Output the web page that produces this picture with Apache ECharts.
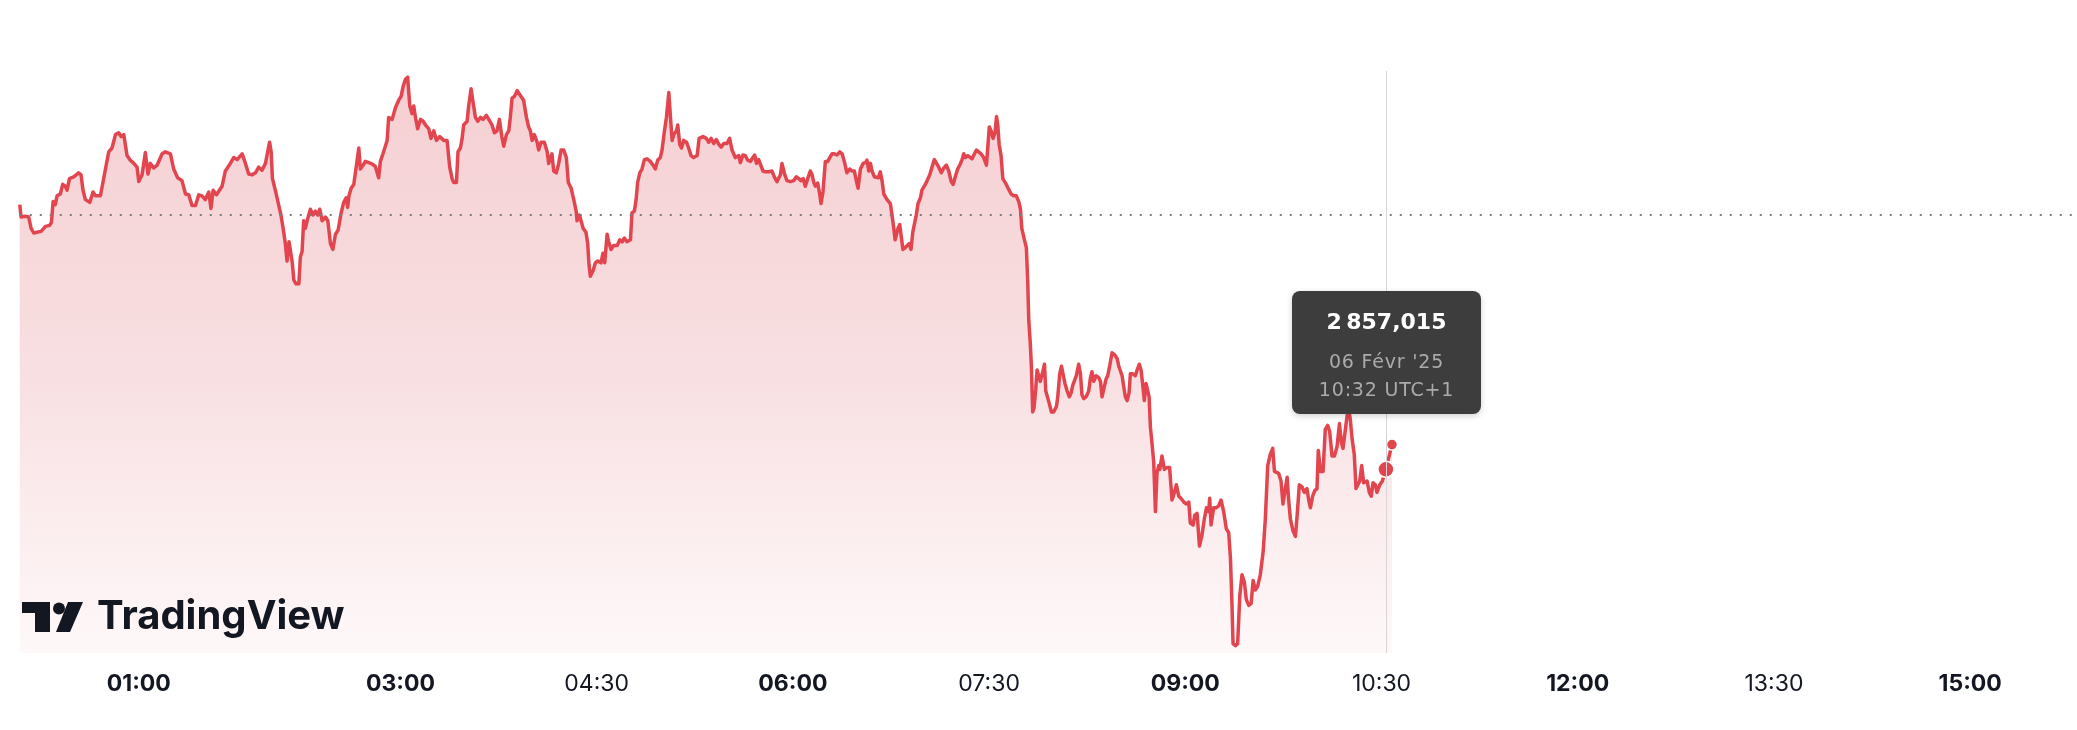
<!DOCTYPE html>
<html><head><meta charset="utf-8">
<script src="https://cdn.jsdelivr.net/npm/echarts@6/dist/echarts.min.js"></script>
<style>html,body{margin:0;padding:0;background:#fff}#c{width:2077px;height:730px}</style>
</head><body><div id="c"></div>
<script>
// minutes after midnight (UTC+1), 06 Feb 2025
const minutes = [
5.4,6.0,8.0,9.5,10.6,11.8,13.3,15.2,17.2,19.1,19.9,20.7,21.7,22.5,24.0,25.1,26.3,27.1,28.2,30.1,32.4,33.5,34.4,35.5,37.5,39.0,40.1,42.4,43.1,44.7,46.2,47.7,49.3,50.8,51.9,53.1,54.6,56.1,57.7,59.2,60.0,61.5,63.0,64.2,65.3,66.8,68.4,70.7,72.2,74.5,76.0,77.8,79.8,81.4,82.9,84.4,86.0,87.5,89.0,90.5,92.1,93.1,94.1,95.6,98.2,99.7,102.0,
103.5,105.1,107.4,108.9,110.4,112.0,113.5,115.0,116.5,118.1,119.1,120.0,120.7,121.3,122.6,124.2,125.2,126.2,127.2,128.0,128.9,129.5,130.4,131.1,132.1,133.4,134.1,134.9,135.6,136.4,137.2,138.7,139.9,141.0,142.1,143.0,144.1,145.6,146.7,147.9,149.0,150.2,151.4,152.8,154.0,155.1,155.8,156.4,157.4,158.6,159.7,160.9,161.6,162.9,163.9,165.5,167.0,168.5,170.0,170.8,172.3,173.9,174.6,176.2,177.7,179.2,180.3,181.2,182.3,183.3,184.3,185.3,186.1,186.9,187.9,189.2,190.4,191.5,193.0,194.0,195.3,196.5,198.0,199.9,201.4,202.6,203.7,204.4,205.7,206.4,207.5,
208.3,209.0,210.6,211.3,212.4,213.3,214.4,215.5,216.7,217.9,219.4,221.0,222.0,223.1,224.3,225.4,226.5,227.4,228.6,229.7,230.4,231.2,232.3,233.5,234.7,236.5,237.8,238.8,239.6,240.4,241.4,242.7,243.4,244.5,246.0,247.3,248.0,248.8,249.5,250.3,251.5,252.6,253.7,254.9,256.1,257.0,258.3,259.5,260.6,261.0,262.1,262.8,263.8,265.1,265.9,266.5,267.1,268.4,269.4,270.5,271.4,272.0,272.9,273.7,274.8,275.5,276.6,277.8,279.4,280.6,281.7,282.7,283.9,285.5,286.2,287.3,288.1,288.8,289.8,290.8,291.9,293.1,294.6,295.9,296.9,298.0,299.2,300.0,301.1,302.0,303.1,303.8,304.6,305.4,306.6,307.2,308.1,308.9,309.9,311.2,312.2,313.3,314.5,316.1,317.0,
318.8,320.3,321.4,322.5,323.7,324.9,326.0,327.1,328.3,329.8,331.0,332.1,333.6,335.2,335.9,337.1,338.2,339.3,340.5,341.7,342.5,343.3,344.3,345.1,346.3,347.4,348.9,350.4,351.5,352.7,354.3,355.0,356.3,357.3,358.9,360.4,361.6,362.7,363.7,364.7,365.7,366.8,368.0,368.8,369.6,370.3,371.4,372.3,372.9,373.8,374.9,376.0,376.9,378.0,379.0,380.3,381.5,382.6,383.6,384.8,386.1,387.1,388.2,389.1,389.9,391.0,392.2,393.3,394.0,394.8,395.6,396.3,397.4,398.3,399.2,400.1,400.9,401.7,403.2,404.7,405.6,406.3,406.9,407.5,408.2,409.0,409.8,410.5,411.6,412.4,413.4,414.2,415.0,415.7,416.6,417.4,418.5,419.2,420.3,421.2,422.8,
423.8,424.9,425.8,426.9,428.1,429.2,430.4,431.5,432.6,433.5,434.5,435.6,436.8,437.6,438.4,439.1,440.2,441.1,442.2,443.3,444.2,445.2,446.3,447.5,448.8,449.5,450.1,450.9,451.8,452.7,453.4,454.0,454.6,455.5,456.3,457.0,457.9,459.0,460.1,461.3,462.5,463.6,464.4,465.0,466.2,467.1,467.7,468.2,468.9,469.4,470.0,470.6,471.4,472.0,472.8,473.5,474.4,475.4,476.0,476.6,477.5,478.6,479.6,480.9,481.5,482.4,483.2,483.9,484.8,485.8,486.8,487.6,488.4,489.1,490.0,491.1,491.9,492.6,493.4,494.5,495.7,496.5,497.2,498.0,499.1,500.3,501.1,501.8,502.6,503.6,504.4,505.3,506.4,507.5,508.7,509.5,510.2,511.0,511.8,512.5,513.3,514.2,514.8,515.9,517.1,517.9,518.9,519.7,520.5,521.2,522.0,522.8,523.4,524.0,524.7,525.5,526.3,527.0,527.8,
528.3,529.3,530.4,531.6,532.8,533.9,535.0,535.9,537.0,538.0,539.3,540.5,541.6,542.3,543.6,544.3,545.4,546.5,547.7,548.7,549.7,550.7,551.2,551.8,553.0,554.1,555.3,556.4,557.6,558.8,559.9,560.7,561.4,561.9,563.0,564.0,565.0,566.0,567.1,568.0,569.1,570.2,571.1,572.1,573.2,574.4,575.7,576.7,577.8,579.0,580.1,580.9,581.8,582.8,583.9,584.8,585.9,586.7,587.4,588.2,589.4,590.5,591.3,592.3,593.5,594.6,595.8,596.6,597.4,598.4,599.4,600.4,601.0,602.0,603.2,604.2,605.3,606.2,607.3,608.4,609.6,610.7,611.6,612.3,613.1,614.2,614.9,615.7,616.5,617.5,618.3,619.1,620.0,620.9,621.8,622.6,623.4,624.4,625.3,626.1,627.2,627.9,629.2,630.4,631.3,632.0,634.8
];
const prices = [
2870.25,2869.63,2869.67,2869.63,2869.06,2868.83,2868.87,2868.91,2869.16,2869.21,2869.35,2870.40,2870.25,2870.69,2870.78,2871.26,2871.17,2870.97,2871.55,2871.64,2871.84,2871.74,2870.97,2870.50,2870.36,2870.88,2870.69,2870.69,2870.78,2872.03,2872.89,2873.08,2873.75,2873.84,2873.65,2873.75,2872.70,2872.47,2872.31,2872.12,2871.40,2871.74,2872.85,2871.78,2872.31,2872.08,2872.22,2872.79,2872.89,2872.79,2872.03,2871.59,2871.45,2870.78,2870.74,2870.21,2870.21,2870.74,2870.69,2870.50,2870.88,2870.06,2870.97,2870.74,2871.17,2871.93,2872.31,
2872.60,2872.50,2872.79,2872.31,2871.78,2871.74,2871.84,2872.12,2871.97,2872.31,2872.89,2873.37,2872.89,2871.55,2870.97,2870.21,2869.73,2869.06,2868.30,2867.43,2868.39,2868.30,2867.34,2866.48,2866.29,2866.29,2867.63,2867.91,2869.44,2869.06,2869.44,2870.02,2869.73,2869.92,2869.73,2870.02,2869.44,2869.63,2869.44,2868.30,2868.01,2868.77,2868.97,2869.83,2870.36,2870.59,2870.11,2870.69,2871.07,2871.26,2872.12,2873.08,2872.03,2872.22,2872.41,2872.35,2872.28,2872.16,2871.59,2872.41,2872.89,2873.46,2874.61,2874.51,2875.09,2875.47,2875.66,2876.14,2876.52,2876.62,2875.18,2874.80,2875.18,2874.61,2874.04,2874.51,2874.42,2874.23,2874.04,2873.56,2873.94,2873.46,2873.65,2873.46,2873.46,2872.12,2871.55,2871.36,2871.36,2872.89,2873.08,
2873.56,2874.23,2874.42,2875.18,2876.04,2875.38,2874.61,2874.42,2874.61,2874.51,2874.71,2874.42,2874.23,2873.84,2873.94,2874.51,2873.65,2873.17,2873.75,2873.94,2874.61,2875.57,2875.66,2875.95,2875.76,2875.47,2874.61,2874.13,2873.94,2873.46,2873.75,2873.37,2872.98,2873.37,2873.37,2872.89,2872.31,2872.60,2872.79,2871.93,2871.84,2872.31,2872.98,2872.98,2872.60,2871.36,2871.07,2870.50,2869.92,2869.44,2869.73,2869.83,2869.06,2868.87,2868.30,2867.24,2866.67,2866.96,2867.34,2867.43,2867.53,2867.34,2867.82,2867.34,2868.77,2868.39,2868.01,2868.20,2868.20,2868.49,2868.39,2868.58,2868.39,2868.49,2869.83,2869.92,2870.50,2871.36,2871.84,2872.03,2872.50,2872.54,2872.41,2872.22,2872.03,2872.47,2872.60,2872.98,2873.94,2874.61,2875.85,2874.71,2873.46,2873.75,2873.94,2874.23,2873.27,2873.08,2873.46,2873.37,2873.08,2872.70,2872.60,2872.70,2873.56,
2873.65,2873.56,2873.37,2873.56,2873.31,2873.50,2873.27,2873.12,2873.31,2873.31,2873.56,2872.98,2872.60,2872.70,2872.35,2872.73,2872.70,2872.47,2872.41,2872.60,2872.73,2872.31,2872.50,2872.54,2871.93,2871.89,2871.89,2871.93,2871.64,2871.40,2871.74,2872.31,2871.74,2871.45,2871.40,2871.45,2871.64,2871.55,2871.45,2871.55,2871.17,2871.55,2871.93,2871.74,2871.36,2871.17,2871.32,2870.78,2870.30,2870.88,2872.41,2872.41,2872.60,2872.79,2872.79,2872.73,2872.89,2872.79,2872.41,2871.84,2872.03,2871.93,2871.93,2871.45,2871.07,2872.03,2872.31,2872.35,2872.47,2871.93,2872.31,2871.93,2871.64,2871.55,2871.59,2871.89,2871.45,2870.78,2870.50,2870.30,2869.63,2869.06,2868.49,2868.39,2869.06,2869.25,2868.58,2868.01,2868.10,2868.20,2868.30,2868.01,2868.87,2868.97,2869.73,2870.30,2870.59,2870.97,2871.17,2871.36,2871.74,
2872.12,2872.50,2872.47,2872.12,2871.84,2872.08,2872.22,2871.93,2871.40,2871.26,2871.64,2872.03,2872.28,2872.50,2872.79,2872.60,2872.70,2872.79,2872.54,2872.79,2872.98,2872.89,2872.79,2872.60,2872.22,2872.12,2874.13,2873.94,2873.56,2873.84,2874.65,2874.23,2873.27,2872.70,2871.55,2871.45,2871.26,2871.01,2870.78,2870.69,2870.69,2870.40,2870.02,2869.06,2868.49,2868.10,2866.48,2864.47,2863.32,2862.17,2859.88,2860.07,2861.02,2861.98,2861.98,2861.41,2861.79,2862.27,2860.93,2860.83,2860.35,2859.88,2859.88,2860.16,2860.64,2861.79,2862.17,2861.79,2861.31,2860.93,2860.64,2860.83,2861.22,2861.12,2861.69,2862.27,2861.79,2860.74,2860.55,2860.64,2860.93,2861.60,2861.89,2861.41,2861.69,2861.60,2861.41,2860.64,2861.02,2861.50,2861.69,2862.17,2862.84,2862.75,2862.56,2862.17,2862.17,2861.69,2861.12,2860.64,2860.45,2860.83,2861.79,2861.79,2861.69,2861.98,2862.27,2861.98,2861.22,2860.45,2861.31,2861.22,2860.64,2859.11,2858.35,2857.39,2854.90,2856.81,2857.20,
2857.01,2857.68,2857.01,2857.10,2857.10,2855.48,2855.86,2856.24,2855.67,2855.57,2855.38,2855.28,2855.38,2854.33,2854.23,2854.71,2854.81,2853.18,2853.75,2854.52,2855.09,2854.90,2855.57,2854.23,2855.09,2855.09,2855.19,2855.48,2854.90,2854.04,2853.85,2852.60,2850.31,2848.30,2848.20,2848.30,2850.69,2851.74,2851.36,2850.50,2850.21,2850.31,2851.46,2850.98,2851.17,2851.74,2852.89,2854.52,2857.20,2857.77,2858.06,2856.91,2857.01,2856.81,2856.43,2855.28,2856.05,2856.62,2855.48,2854.52,2853.94,2853.66,2854.71,2856.24,2856.14,2855.86,2856.05,2855.48,2855.09,2855.67,2855.95,2856.05,2857.96,2856.91,2856.91,2859.01,2859.21,2858.92,2857.68,2857.68,2858.15,2859.30,2858.35,2858.06,2858.73,2859.68,2860.07,2859.49,2858.54,2857.77,2856.05,2855.95,2856.43,2857.20,2856.34,2856.24,2856.43,2855.86,2855.67,2856.34,2856.24,2855.86,2856.24,2856.43,2856.43,2857.015,2858.25
];
const prevClose = 2869.75;
const hoverMinute = 632.0;
const tickMinutes = [60, 180, 270, 360, 450, 540, 630, 720, 810, 900];
const tickLabels = ['01:00', '03:00', '04:30', '06:00', '07:30', '09:00', '10:30', '12:00', '13:30', '15:00'];
const dateLabel = "06 Févr '25";
const tzLabel = 'UTC+1';
const yRange = [2847.83, 2876.93];
const xRange = [0, 949];

const LINE = '#e2454e';
const FONT = 'Inter, "Noto Sans", sans-serif';
const TIP_FONT = "'DejaVu Sans', Inter, sans-serif";

function frNumber(v) {
  const s = v.toFixed(3);
  const [ip, fp] = s.split('.');
  const grouped = ip.replace(/\B(?=(\d{3})+(?!\d))/g, '\u202f');
  return grouped + ',' + fp;
}
function hhmm(m) {
  const mm = Math.round(m);
  return String(Math.floor(mm / 60)).padStart(2, '0') + ':' + String(mm % 60).padStart(2, '0');
}

const seriesData = minutes.map((m, i) => [m, prices[i]]);
const hoverIndex = minutes.indexOf(hoverMinute);
const lastIndex = minutes.length - 1;

const chart = echarts.init(document.getElementById('c'), null, { renderer: 'canvas' });
chart.setOption({
  animation: false,
  backgroundColor: '#ffffff',
  grid: { left: 8, right: 0, top: 71, bottom: 77 },
  xAxis: {
    type: 'value', min: xRange[0], max: xRange[1],
    axisLine: { show: false }, axisTick: { show: false }, splitLine: { show: false },
    axisLabel: {
      customValues: tickMinutes,
      margin: 20,
      formatter: function (val) {
        const i = tickMinutes.indexOf(val);
        const lbl = i >= 0 ? tickLabels[i] : hhmm(val);
        return lbl.endsWith(':00') ? '{b|' + lbl + '}' : '{n|' + lbl + '}';
      },
      rich: {
        b: { fontFamily: FONT, fontSize: 23, fontWeight: 700, color: '#131722' },
        n: { fontFamily: FONT, fontSize: 23, fontWeight: 400, color: '#131722' }
      }
    }
  },
  yAxis: { type: 'value', show: false, min: yRange[0], max: yRange[1], splitLine: { show: false } },
  tooltip: {
    trigger: 'axis',
    alwaysShowContent: true,
    transitionDuration: 0,
    backgroundColor: '#3d3d3d',
    borderWidth: 0,
    borderRadius: 8,
    padding: [17, 0, 11, 0],
    extraCssText: 'width:189px;box-sizing:border-box;text-align:center;box-shadow:0 2px 6px rgba(0,0,0,0.18);',
    axisPointer: { type: 'line', animation: false, lineStyle: { color: '#d6d6d6', width: 1, type: 'solid' } },
    position: function (point) { return [point[0] - 94, point[1] - 178]; },
    formatter: function (params) {
      const p = params[0];
      return '<div style="font-family:' + TIP_FONT + ';">' +
        '<div style="color:#ffffff;font-weight:700;font-size:22px;letter-spacing:0.6px;line-height:28px;">' + frNumber(p.value[1]) + '</div>' +
        '<div style="color:#ababab;font-size:19px;letter-spacing:0.8px;line-height:28px;margin-top:11px;">' + dateLabel + '</div>' +
        '<div style="color:#ababab;font-size:19px;letter-spacing:0.8px;line-height:28px;">' + hhmm(p.value[0]) + ' ' + tzLabel + '</div>' +
        '</div>';
    }
  },
  series: [{
    type: 'line',
    data: seriesData,
    symbol: 'none',
    showSymbol: false,
    emphasis: { disabled: true },
    lineStyle: { color: LINE, width: 3.5, join: 'round' },
    areaStyle: {
      opacity: 1,
      origin: 'start',
      color: new echarts.graphic.LinearGradient(0, 0, 0, 1, [
        { offset: 0, color: '#f5cfd2' },
        { offset: 0.5, color: '#f8dfe1' },
        { offset: 1, color: '#fef8f9' }
      ])
    },
    markLine: {
      silent: true, symbol: 'none', label: { show: false },
      lineStyle: { color: '#7d7d7d', width: 2, type: [2, 8] },
      data: [[{ coord: [minutes[0], prevClose] }, { coord: [xRange[1], prevClose] }]]
    },
    markPoint: {
      silent: true, symbol: 'circle', label: { show: false },
      itemStyle: { color: LINE, borderColor: '#ffffff', borderWidth: 1.5 },
      data: [
        { coord: [minutes[hoverIndex], prices[hoverIndex]], symbolSize: 16 },
        { coord: [minutes[lastIndex], prices[lastIndex]], symbolSize: 11 }
      ]
    }
  }],
  graphic: [{
    type: 'group', left: 22, top: 597, silent: true, z: 100,
    children: [
      { type: 'rect', z: 100, shape: { x: 0, y: 0, width: 28, height: 11 }, style: { fill: '#131722' } },
      { type: 'rect', z: 100, shape: { x: 13, y: 0, width: 15, height: 30 }, style: { fill: '#131722' } },
      { type: 'circle', z: 100, shape: { cx: 37, cy: 6.5, r: 6 }, style: { fill: '#131722' } },
      { type: 'polygon', z: 100, shape: { points: [[46, 0], [61, 0], [48, 30], [34, 30]] }, style: { fill: '#131722' } },
      { type: 'text', z: 100, x: 75, y: 15, style: { text: 'TradingView', fill: '#131722', font: '700 40px ' + FONT, verticalAlign: 'middle', align: 'left' } }
    ]
  }]
});
function showHover() {
  chart.dispatchAction({ type: 'showTip', seriesIndex: 0, dataIndex: hoverIndex });
}
showHover();
setTimeout(showHover, 50);
</script>
</body></html>
